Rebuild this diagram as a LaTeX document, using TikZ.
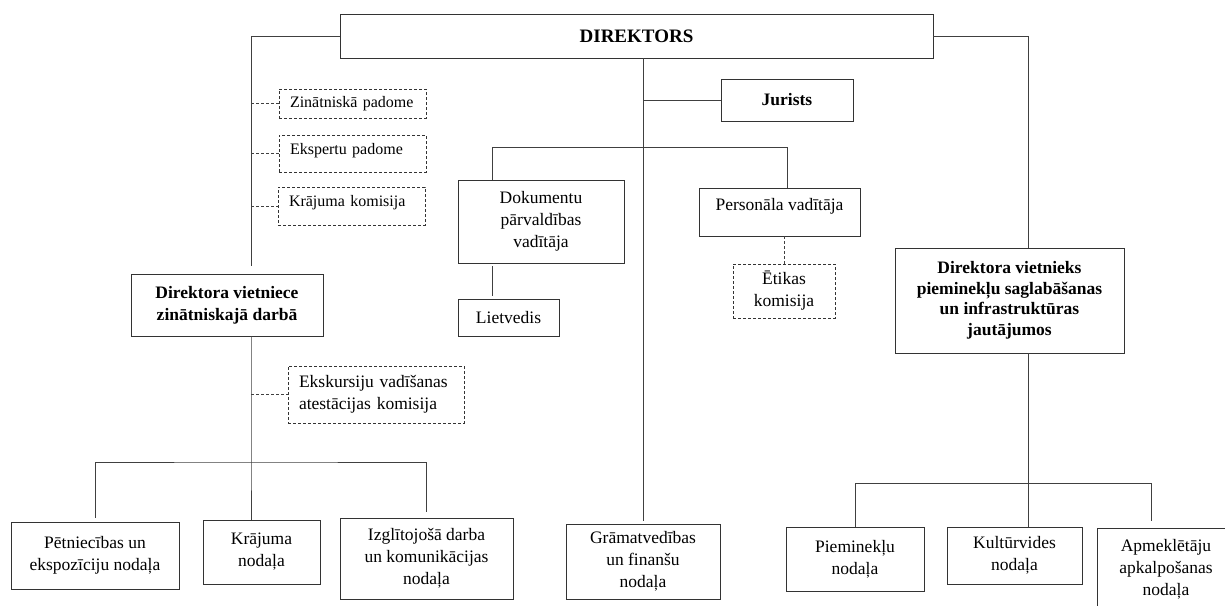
\documentclass[tikz,border=0pt]{standalone}
\usepackage{fontspec}
\setmainfont{Liberation Serif}
\usepackage{tikz}

\begin{document}
\begin{tikzpicture}[x=1pt,y=-1pt]
\tikzstyle{every node}=[font=\fontsize{17.5}{22}\selectfont]
\tikzstyle{box}=[draw=black!80,line width=.8pt,align=center,inner sep=0pt]
\tikzstyle{dbox}=[box,dash pattern=on 3pt off 2pt]
\tikzstyle{lbox}=[dbox,align=left,inner xsep=11pt,inner ysep=0pt]
\tikzstyle{bold}=[font=\fontsize{17.5}{22}\selectfont\bfseries]
\tikzstyle{small}=[font=\fontsize{16}{20}\selectfont]
\tikzstyle{conn}=[draw=black!75,line width=.8pt]
\tikzstyle{dconn}=[conn,dash pattern=on 3pt off 2pt]

\useasboundingbox (0,0) rectangle (1225,605);
\clip (0,0) rectangle (1225,605);

%top
\node [box,minimum width=593pt,minimum height=44pt,font=\fontsize{19}{22}\selectfont\bfseries] (dir) at (636.5,36) {DIREKTORS};

%left branch
\node [lbox,small,text width=125pt,minimum height=29pt] (zin) at (352.5,103.5) {Zinātniskā padome};
\node [lbox,small,text width=125pt,minimum height=37pt,text depth=9pt] (eksp) at (352.5,153.5) {Ekspertu padome};
\node [lbox,small,text width=125pt,minimum height=38pt,text depth=11pt] (kra) at (351.5,206) {Krājuma komisija};
\node [box,bold,minimum width=192pt,minimum height=62pt] (vtn) at (227,305) {Direktora vietniece\\zinātniskajā darbā};
\node [lbox,text width=154pt,minimum height=57pt] (eksk) at (376,394.5) {Ekskursiju vadīšanas\\atestācijas komisija};

%middle branch
\node [box,bold,minimum width=132pt,minimum height=42pt] (jur) at (787,100) {Jurists};
\node [box,minimum width=166pt,minimum height=83pt] (dok) at (541,221.5) {Dokumentu\\pārvaldības\\vadītāja};
\node [box,minimum width=101pt,minimum height=37pt] (liet) at (508.5,317.5) {Lietvedis};
\node [box,minimum width=161pt,minimum height=48pt,text depth=16pt] (pers) at (779.5,212) {Personāla vadītāja};
\node [dbox,minimum width=102pt,minimum height=54pt] (etik) at (784,291) {Ētikas\\komisija};

%right branch
\node [box,minimum width=229pt,minimum height=105pt,font=\fontsize{17.5}{20.5}\selectfont\bfseries] (vts) at (1009.5,300.5) {Direktora vietnieks\\pieminekļu saglabāšanas\\un infrastruktūras\\jautājumos};

%departments
\node [box,minimum width=168pt,minimum height=67pt] (pet) at (95,555.5) {Pētniecības un\\ekspozīciju nodaļa};
\node [box,minimum width=117pt,minimum height=64pt] (kran) at (261.5,552) {Krājuma\\nodaļa};
\node [box,minimum width=173pt,minimum height=81pt] (izgl) at (426.5,558.5) {Izglītojošā darba\\un komunikācijas\\nodaļa};
\node [box,minimum width=154pt,minimum height=75pt] (gram) at (643,561.5) {Grāmatvedības\\un finanšu\\nodaļa};
\node [box,minimum width=138pt,minimum height=64pt] (piem) at (855,559) {Pieminekļu\\nodaļa};
\node [box,minimum width=135pt,minimum height=57pt] (kult) at (1014.5,555.5) {Kultūrvides\\nodaļa};
\node [box,minimum width=138pt,minimum height=82pt] (apm) at (1166,569) {Apmeklētāju\\apkalpošanas\\nodaļa};

%bus points
\coordinate (lbus) at (251,462);
\coordinate (mbusl) at (492,147);
\coordinate (mbusr) at (787,147);
\coordinate (rbus) at (1028,483);
\coordinate (rbusr) at (1151,483);

%left lines
\draw [conn,shorten >=8pt] (dir.west) -| (vtn.north -| lbus);
\draw [conn] (vtn.south -| lbus) -- (lbus) -- (kran.north -| lbus);
\draw [conn,shorten <=4pt,shorten >=6pt] (pet.north) |- (lbus) -| (izgl.north);
\foreach \n in {zin,eksp,kra,eksk}
  \draw [dconn] (\n.west -| lbus) -- (\n.west);

%middle lines
\draw [conn,shorten >=3pt] (dir.south -| gram.north) -- (gram.north);
\draw [conn] (jur.west -| gram.north) -- (jur.west);
\draw [conn] (dok.north -| mbusl) -- (mbusl) -- (mbusr) -- (pers.north -| mbusr);
\draw [conn,shorten <=3pt,shorten >=3pt] (dok.south -| mbusl) -- (liet.north -| mbusl);
\draw [dconn] (pers.south -| etik.north) -- (etik.north);

%right lines
\draw [conn] (dir.east) -| (vts.north -| rbus);
\draw [conn] (vts.south -| rbus) -- (rbus) -- (kult.north -| rbus);
\draw [conn,shorten >=7pt] (piem.north) |- (rbusr) -- (apm.north -| rbusr);
\end{tikzpicture}
\end{document}
